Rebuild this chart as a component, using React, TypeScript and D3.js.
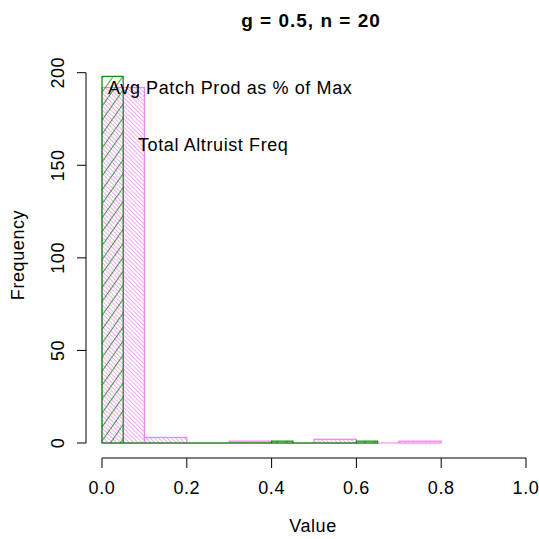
import React from 'react';
import * as d3 from 'd3';

// bins
const patchBreaks = [0, 0.05, 0.1, 0.15, 0.2, 0.25, 0.3, 0.35, 0.4, 0.45, 0.5, 0.55, 0.6, 0.65];
const patchCounts = [198, 0, 0, 0, 0, 0, 0, 0, 1, 0, 0, 0, 1];
const altruistBreaks = [0, 0.1, 0.2, 0.3, 0.4, 0.5, 0.6, 0.7, 0.8];
const altruistCounts = [192, 3, 0, 1, 0, 2, 0, 1];
const xTicks = [0, 0.2, 0.4, 0.6, 0.8, 1.0];
const yTicks = [0, 50, 100, 150, 200];

const font = '"Liberation Sans", Arial, sans-serif';

const App = () => {
  const W = 539;
  const H = 539;
  const x = d3.scaleLinear().domain([0, 1]).range([102, 526]);
  const y = d3.scaleLinear().domain([0, 200]).range([443, 72.7]);
  const axisY = 458;
  const axisX = 86;
  const ls = 0.6;

  const bins = (breaks, counts) =>
    counts.map((c, i) => ({ x0: breaks[i], x1: breaks[i + 1], c }));

  const pink = bins(altruistBreaks, altruistCounts);
  const green = bins(patchBreaks, patchCounts);

  // R draws empty bins as flat lines, a 0-height svg rect would vanish
  const drawBin = (b, key, fill, color) =>
    b.c === 0 ? (
      <line key={key} x1={x(b.x0)} x2={x(b.x1)} y1={y(0)} y2={y(0)} stroke={color} strokeWidth={1.2} />
    ) : (
      <rect
        key={key}
        x={x(b.x0)}
        y={y(b.c)}
        width={x(b.x1) - x(b.x0)}
        height={y(0) - y(b.c)}
        fill={fill}
        stroke={color}
        strokeWidth={1.2}
      />
    );

  return (
    <svg width={W} height={H} style={{ position: 'absolute', left: 0, top: 0, background: '#fff' }}>
      <defs>
        <pattern id="pinkHatch" width="3" height="3" patternUnits="userSpaceOnUse" patternTransform="rotate(-45)">
          <line x1="0" y1="0" x2="0" y2="3" stroke="#EE82EE" strokeWidth="1.4" />
        </pattern>
        <pattern id="greenHatch" width="8" height="8" patternUnits="userSpaceOnUse" patternTransform="rotate(35)">
          <line x1="0" y1="0" x2="0" y2="8" stroke="#008B00" strokeWidth="1.5" />
        </pattern>
      </defs>
      <rect width={W} height={H} fill="#fff" />

      {/* altruist freq (violet) */}
      {pink.map((b, i) => drawBin(b, 'p' + i, 'url(#pinkHatch)', '#EE82EE'))}
      {/* patch prod (green) */}
      {green.map((b, i) => drawBin(b, 'g' + i, 'url(#greenHatch)', '#008B00'))}

      {/* x axis */}
      <line x1={x(0)} x2={x(1)} y1={axisY} y2={axisY} stroke="#000" />
      {xTicks.map((t) => (
        <g key={'xt' + t}>
          <line x1={x(t)} x2={x(t)} y1={axisY} y2={axisY + 10} stroke="#000" />
          <text x={x(t)} y={494} textAnchor="middle" fontFamily={font} fontSize={18} letterSpacing={ls}>
            {t.toFixed(1)}
          </text>
        </g>
      ))}
      <text x={313} y={532} textAnchor="middle" fontFamily={font} fontSize={18} letterSpacing={ls}>
        Value
      </text>

      {/* y axis */}
      <line x1={axisX} x2={axisX} y1={y(0)} y2={y(200)} stroke="#000" />
      {yTicks.map((t) => (
        <g key={'yt' + t}>
          <line x1={axisX - 9} x2={axisX} y1={y(t)} y2={y(t)} stroke="#000" />
          <text
            transform={`translate(64,${y(t)}) rotate(-90)`}
            textAnchor="middle"
            fontFamily={font}
            fontSize={18}
            letterSpacing={ls}
          >
            {t}
          </text>
        </g>
      ))}
      <text transform="translate(24,255) rotate(-90)" textAnchor="middle" fontFamily={font} fontSize={18} letterSpacing={ls}>
        Frequency
      </text>

      {/* title */}
      <text x={311} y={27} textAnchor="middle" fontFamily={font} fontSize={19} fontWeight="bold" letterSpacing={1}>
        g = 0.5, n = 20
      </text>

      {/* labels */}
      <text x={108} y={94} fontFamily={font} fontSize={18} letterSpacing={ls}>
        Avg Patch Prod as % of Max
      </text>
      <text x={138} y={151} fontFamily={font} fontSize={18} letterSpacing={ls}>
        Total Altruist Freq
      </text>
    </svg>
  );
};

export default App;
